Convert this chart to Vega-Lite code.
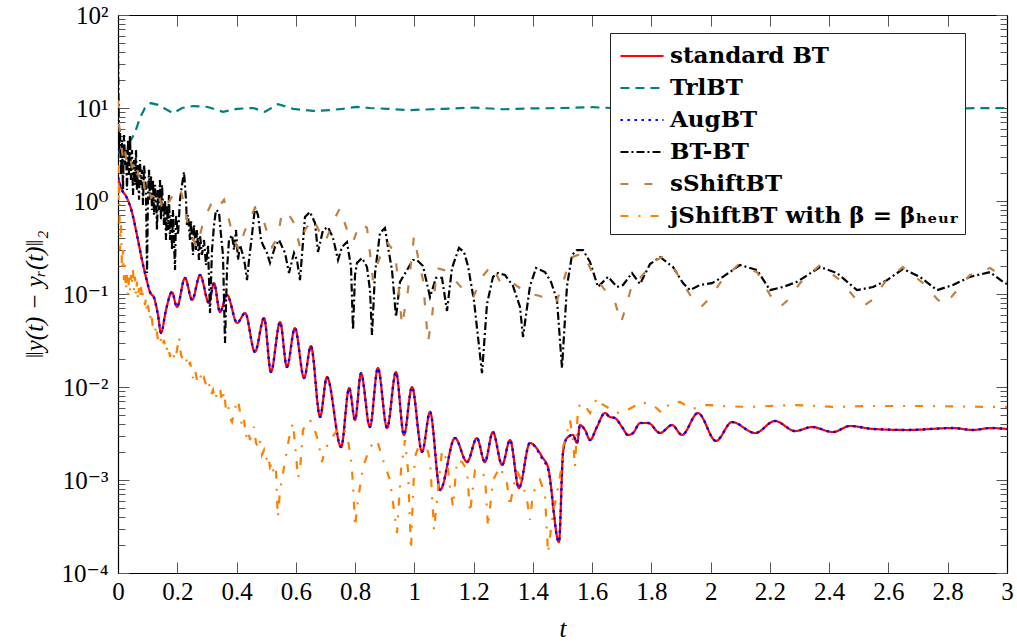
{
"$schema": "https://vega.github.io/schema/vega-lite/v6.json",
"width": 889, "height": 558,
"autosize": {"type": "none"},
"padding": {"left": 118, "top": 15, "right": 10, "bottom": 71},
"background": "white",
"config": {
 "view": {"stroke": null},
 "font": "Liberation Serif, DejaVu Serif, serif",
 "axis": {"domainColor": "black", "domainWidth": 1.2, "tickColor": "#555", "tickWidth": 1, "labelFont": "Liberation Serif, DejaVu Serif, serif", "labelFontSize": 25, "labelColor": "black", "titleFont": "Liberation Serif, DejaVu Serif, serif", "titleFontSize": 25, "titleFontWeight": "normal", "titleColor": "black", "grid": false, "labelOverlap": false, "labelFlush": false},
 "legend": {"labelFont": "DejaVu Serif, Liberation Serif, serif", "labelFontSize": 23, "labelFontWeight": "bold", "labelColor": "black", "labelLimit": 500}
},
"data": {"values": [
{"s":"BT","t":0,"v":1.81},{"s":"BT","t":0.0135,"v":1.31},{"s":"BT","t":0.027,"v":1.13},{"s":"BT","t":0.047,"v":0.761},{"s":"BT","t":0.064,"v":0.431},{"s":"BT","t":0.081,"v":0.232},{"s":"BT","t":0.095,"v":0.149},{"s":"BT","t":0.108,"v":0.105},{"s":"BT","t":0.122,"v":0.0906},{"s":"BT","t":0.135,"v":0.0594},{"s":"BT","t":0.145,"v":0.0381},{"s":"BT","t":0.162,"v":0.0673},{"s":"BT","t":0.182,"v":0.105},{"s":"BT","t":0.199,"v":0.0725},{"s":"BT","t":0.226,"v":0.149},{"s":"BT","t":0.25,"v":0.0862},{"s":"BT","t":0.277,"v":0.16},{"s":"BT","t":0.307,"v":0.08},{"s":"BT","t":0.324,"v":0.131},{"s":"BT","t":0.344,"v":0.064},{"s":"BT","t":0.368,"v":0.0976},{"s":"BT","t":0.402,"v":0.0488},{"s":"BT","t":0.429,"v":0.0625},{"s":"BT","t":0.462,"v":0.0238},{"s":"BT","t":0.493,"v":0.0552},{"s":"BT","t":0.516,"v":0.0145},{"s":"BT","t":0.547,"v":0.05},{"s":"BT","t":0.57,"v":0.0164},{"s":"BT","t":0.597,"v":0.0431},{"s":"BT","t":0.628,"v":0.0125},{"s":"BT","t":0.651,"v":0.0276},{"s":"BT","t":0.682,"v":0.00476},{"s":"BT","t":0.705,"v":0.0128},{"s":"BT","t":0.753,"v":0.00226},{"s":"BT","t":0.78,"v":0.00976},{"s":"BT","t":0.8,"v":0.00442},{"s":"BT","t":0.82,"v":0.0141},{"s":"BT","t":0.85,"v":0.00371},{"s":"BT","t":0.877,"v":0.016},{"s":"BT","t":0.908,"v":0.00362},{"s":"BT","t":0.938,"v":0.0145},{"s":"BT","t":0.965,"v":0.00305},{"s":"BT","t":0.992,"v":0.01},{"s":"BT","t":1.026,"v":0.002},{"s":"BT","t":1.053,"v":0.00539},{"s":"BT","t":1.087,"v":0.000781},{"s":"BT","t":1.137,"v":0.00283},{"s":"BT","t":1.178,"v":0.00156},{"s":"BT","t":1.211,"v":0.00283},{"s":"BT","t":1.238,"v":0.00156},{"s":"BT","t":1.265,"v":0.00328},{"s":"BT","t":1.296,"v":0.00145},{"s":"BT","t":1.323,"v":0.00269},{"s":"BT","t":1.353,"v":0.00082},{"s":"BT","t":1.39,"v":0.0025},{"s":"BT","t":1.434,"v":0.00172},{"s":"BT","t":1.451,"v":0.00138},{"s":"BT","t":1.488,"v":0.000215},{"s":"BT","t":1.502,"v":0.002},{"s":"BT","t":1.515,"v":0.00283},{"s":"BT","t":1.535,"v":0.00305},{"s":"BT","t":1.549,"v":0.0025},{"s":"BT","t":1.559,"v":0.0039},{"s":"BT","t":1.576,"v":0.00345},{"s":"BT","t":1.593,"v":0.00269},{"s":"BT","t":1.616,"v":0.00371},{"s":"BT","t":1.643,"v":0.00525},{"s":"BT","t":1.66,"v":0.00476},{"s":"BT","t":1.677,"v":0.00464},{"s":"BT","t":1.701,"v":0.00371},{"s":"BT","t":1.721,"v":0.00305},{"s":"BT","t":1.738,"v":0.0032},{"s":"BT","t":1.762,"v":0.0041},{"s":"BT","t":1.789,"v":0.0041},{"s":"BT","t":1.829,"v":0.0032},{"s":"BT","t":1.87,"v":0.0039},{"s":"BT","t":1.903,"v":0.00305},{"s":"BT","t":1.957,"v":0.00525},{"s":"BT","t":2.018,"v":0.00263},{"s":"BT","t":2.072,"v":0.0042},{"s":"BT","t":2.15,"v":0.0032},{"s":"BT","t":2.217,"v":0.00431},{"s":"BT","t":2.285,"v":0.00336},{"s":"BT","t":2.342,"v":0.00371},{"s":"BT","t":2.413,"v":0.00328},{"s":"BT","t":2.47,"v":0.00381},{"s":"BT","t":2.548,"v":0.00354},{"s":"BT","t":2.663,"v":0.00345},{"s":"BT","t":2.818,"v":0.00362},{"s":"BT","t":2.885,"v":0.00345},{"s":"BT","t":2.943,"v":0.00362},{"s":"BT","t":3,"v":0.00354},
{"s":"AugBT","t":0,"v":1.81},{"s":"AugBT","t":0.0135,"v":1.31},{"s":"AugBT","t":0.027,"v":1.13},{"s":"AugBT","t":0.047,"v":0.761},{"s":"AugBT","t":0.064,"v":0.431},{"s":"AugBT","t":0.081,"v":0.232},{"s":"AugBT","t":0.095,"v":0.149},{"s":"AugBT","t":0.108,"v":0.105},{"s":"AugBT","t":0.122,"v":0.0906},{"s":"AugBT","t":0.135,"v":0.0594},{"s":"AugBT","t":0.145,"v":0.0381},{"s":"AugBT","t":0.162,"v":0.0673},{"s":"AugBT","t":0.182,"v":0.105},{"s":"AugBT","t":0.199,"v":0.0725},{"s":"AugBT","t":0.226,"v":0.149},{"s":"AugBT","t":0.25,"v":0.0862},{"s":"AugBT","t":0.277,"v":0.16},{"s":"AugBT","t":0.307,"v":0.08},{"s":"AugBT","t":0.324,"v":0.131},{"s":"AugBT","t":0.344,"v":0.064},{"s":"AugBT","t":0.368,"v":0.0976},{"s":"AugBT","t":0.402,"v":0.0488},{"s":"AugBT","t":0.429,"v":0.0625},{"s":"AugBT","t":0.462,"v":0.0238},{"s":"AugBT","t":0.493,"v":0.0552},{"s":"AugBT","t":0.516,"v":0.0145},{"s":"AugBT","t":0.547,"v":0.05},{"s":"AugBT","t":0.57,"v":0.0164},{"s":"AugBT","t":0.597,"v":0.0431},{"s":"AugBT","t":0.628,"v":0.0125},{"s":"AugBT","t":0.651,"v":0.0276},{"s":"AugBT","t":0.682,"v":0.00476},{"s":"AugBT","t":0.705,"v":0.0128},{"s":"AugBT","t":0.753,"v":0.00226},{"s":"AugBT","t":0.78,"v":0.00976},{"s":"AugBT","t":0.8,"v":0.00442},{"s":"AugBT","t":0.82,"v":0.0141},{"s":"AugBT","t":0.85,"v":0.00371},{"s":"AugBT","t":0.877,"v":0.016},{"s":"AugBT","t":0.908,"v":0.00362},{"s":"AugBT","t":0.938,"v":0.0145},{"s":"AugBT","t":0.965,"v":0.00305},{"s":"AugBT","t":0.992,"v":0.01},{"s":"AugBT","t":1.026,"v":0.002},{"s":"AugBT","t":1.053,"v":0.00539},{"s":"AugBT","t":1.087,"v":0.000781},{"s":"AugBT","t":1.137,"v":0.00283},{"s":"AugBT","t":1.178,"v":0.00156},{"s":"AugBT","t":1.211,"v":0.00283},{"s":"AugBT","t":1.238,"v":0.00156},{"s":"AugBT","t":1.265,"v":0.00328},{"s":"AugBT","t":1.296,"v":0.00145},{"s":"AugBT","t":1.323,"v":0.00269},{"s":"AugBT","t":1.353,"v":0.00082},{"s":"AugBT","t":1.39,"v":0.0025},{"s":"AugBT","t":1.434,"v":0.00165},{"s":"AugBT","t":1.451,"v":0.00132},{"s":"AugBT","t":1.488,"v":0.000215},{"s":"AugBT","t":1.502,"v":0.002},{"s":"AugBT","t":1.515,"v":0.00283},{"s":"AugBT","t":1.535,"v":0.00305},{"s":"AugBT","t":1.549,"v":0.0025},{"s":"AugBT","t":1.559,"v":0.0039},{"s":"AugBT","t":1.576,"v":0.00345},{"s":"AugBT","t":1.593,"v":0.00269},{"s":"AugBT","t":1.616,"v":0.00371},{"s":"AugBT","t":1.643,"v":0.00525},{"s":"AugBT","t":1.66,"v":0.00476},{"s":"AugBT","t":1.677,"v":0.00464},{"s":"AugBT","t":1.701,"v":0.00371},{"s":"AugBT","t":1.721,"v":0.00305},{"s":"AugBT","t":1.738,"v":0.0032},{"s":"AugBT","t":1.762,"v":0.0041},{"s":"AugBT","t":1.789,"v":0.0041},{"s":"AugBT","t":1.829,"v":0.0032},{"s":"AugBT","t":1.87,"v":0.0039},{"s":"AugBT","t":1.903,"v":0.00305},{"s":"AugBT","t":1.957,"v":0.00525},{"s":"AugBT","t":2.018,"v":0.00263},{"s":"AugBT","t":2.072,"v":0.0042},{"s":"AugBT","t":2.15,"v":0.0032},{"s":"AugBT","t":2.217,"v":0.00431},{"s":"AugBT","t":2.285,"v":0.00336},{"s":"AugBT","t":2.342,"v":0.00371},{"s":"AugBT","t":2.413,"v":0.00328},{"s":"AugBT","t":2.47,"v":0.00381},{"s":"AugBT","t":2.548,"v":0.00354},{"s":"AugBT","t":2.663,"v":0.00345},{"s":"AugBT","t":2.818,"v":0.00362},{"s":"AugBT","t":2.885,"v":0.00345},{"s":"AugBT","t":2.943,"v":0.00362},{"s":"AugBT","t":3,"v":0.00354},
{"s":"TrlBT","t":0,"v":3.3},{"s":"TrlBT","t":0.03,"v":3.8},{"s":"TrlBT","t":0.057,"v":5.4},{"s":"TrlBT","t":0.074,"v":7.8},{"s":"TrlBT","t":0.091,"v":10},{"s":"TrlBT","t":0.111,"v":11.3},{"s":"TrlBT","t":0.135,"v":10.8},{"s":"TrlBT","t":0.159,"v":9.8},{"s":"TrlBT","t":0.186,"v":8.8},{"s":"TrlBT","t":0.216,"v":10},{"s":"TrlBT","t":0.253,"v":10.5},{"s":"TrlBT","t":0.3,"v":10.3},{"s":"TrlBT","t":0.354,"v":9.1},{"s":"TrlBT","t":0.402,"v":9.8},{"s":"TrlBT","t":0.456,"v":10},{"s":"TrlBT","t":0.496,"v":9.1},{"s":"TrlBT","t":0.54,"v":11},{"s":"TrlBT","t":0.591,"v":9.8},{"s":"TrlBT","t":0.658,"v":9.3},{"s":"TrlBT","t":0.715,"v":9.5},{"s":"TrlBT","t":0.759,"v":9.8},{"s":"TrlBT","t":0.807,"v":10.3},{"s":"TrlBT","t":0.85,"v":10},{"s":"TrlBT","t":0.908,"v":9.8},{"s":"TrlBT","t":0.985,"v":9.5},{"s":"TrlBT","t":1.1,"v":9.8},{"s":"TrlBT","t":1.2,"v":10.1},{"s":"TrlBT","t":1.3,"v":9.7},{"s":"TrlBT","t":1.4,"v":9.9},{"s":"TrlBT","t":1.5,"v":10},{"s":"TrlBT","t":1.6,"v":10.2},{"s":"TrlBT","t":1.7,"v":9.9},{"s":"TrlBT","t":1.8,"v":10},{"s":"TrlBT","t":1.9,"v":10.1},{"s":"TrlBT","t":2,"v":10},{"s":"TrlBT","t":2.2,"v":9.9},{"s":"TrlBT","t":2.4,"v":10},{"s":"TrlBT","t":2.6,"v":10},{"s":"TrlBT","t":2.8,"v":9.9},{"s":"TrlBT","t":3,"v":10},
{"s":"BTBT","t":0,"v":47.6},{"s":"BTBT","t":0.0017,"v":12.2},{"s":"BTBT","t":0.0034,"v":3.54},{"s":"BTBT","t":0.0067,"v":5.8},{"s":"BTBT","t":0.0101,"v":1.9},{"s":"BTBT","t":0.0135,"v":4.53},{"s":"BTBT","t":0.0169,"v":1.31},{"s":"BTBT","t":0.0202,"v":5.13},{"s":"BTBT","t":0.0236,"v":2.44},{"s":"BTBT","t":0.027,"v":3.54},{"s":"BTBT","t":0.0304,"v":1.31},{"s":"BTBT","t":0.0337,"v":4.53},{"s":"BTBT","t":0.0371,"v":1.9},{"s":"BTBT","t":0.0405,"v":5.13},{"s":"BTBT","t":0.0439,"v":1.68},{"s":"BTBT","t":0.0472,"v":3.54},{"s":"BTBT","t":0.0506,"v":1.16},{"s":"BTBT","t":0.054,"v":2.76},{"s":"BTBT","t":0.0574,"v":1.49},{"s":"BTBT","t":0.0607,"v":3.54},{"s":"BTBT","t":0.0641,"v":1.31},{"s":"BTBT","t":0.0675,"v":2.44},{"s":"BTBT","t":0.0709,"v":1.03},{"s":"BTBT","t":0.0742,"v":2.76},{"s":"BTBT","t":0.0776,"v":1.49},{"s":"BTBT","t":0.081,"v":2.16},{"s":"BTBT","t":0.0844,"v":0.906},{"s":"BTBT","t":0.0877,"v":2.44},{"s":"BTBT","t":0.0945,"v":1.31},{"s":"BTBT","t":0.0979,"v":0.168},{"s":"BTBT","t":0.1012,"v":1.16},{"s":"BTBT","t":0.1046,"v":2.16},{"s":"BTBT","t":0.108,"v":1.03},{"s":"BTBT","t":0.1114,"v":1.9},{"s":"BTBT","t":0.1147,"v":0.8},{"s":"BTBT","t":0.1181,"v":1.68},{"s":"BTBT","t":0.1215,"v":0.707},{"s":"BTBT","t":0.1249,"v":1.49},{"s":"BTBT","t":0.1282,"v":1.16},{"s":"BTBT","t":0.1316,"v":0.488},{"s":"BTBT","t":0.135,"v":1.31},{"s":"BTBT","t":0.1384,"v":0.8},{"s":"BTBT","t":0.1417,"v":1.68},{"s":"BTBT","t":0.1451,"v":0.625},{"s":"BTBT","t":0.1485,"v":1.49},{"s":"BTBT","t":0.1552,"v":0.552},{"s":"BTBT","t":0.1586,"v":1.03},{"s":"BTBT","t":0.162,"v":0.381},{"s":"BTBT","t":0.1654,"v":0.906},{"s":"BTBT","t":0.1687,"v":0.488},{"s":"BTBT","t":0.1721,"v":1.16},{"s":"BTBT","t":0.1755,"v":0.381},{"s":"BTBT","t":0.1789,"v":0.707},{"s":"BTBT","t":0.1822,"v":0.297},{"s":"BTBT","t":0.1856,"v":0.8},{"s":"BTBT","t":0.1924,"v":0.181},{"s":"BTBT","t":0.1957,"v":0.707},{"s":"BTBT","t":0.2025,"v":0.431},{"s":"BTBT","t":0.2092,"v":1.03},{"s":"BTBT","t":0.216,"v":1.49},{"s":"BTBT","t":0.2227,"v":2.05},{"s":"BTBT","t":0.2295,"v":1.03},{"s":"BTBT","t":0.2328,"v":0.552},{"s":"BTBT","t":0.2362,"v":0.707},{"s":"BTBT","t":0.243,"v":0.381},{"s":"BTBT","t":0.2463,"v":0.625},{"s":"BTBT","t":0.2531,"v":0.263},{"s":"BTBT","t":0.2565,"v":0.552},{"s":"BTBT","t":0.2632,"v":0.297},{"s":"BTBT","t":0.2666,"v":0.488},{"s":"BTBT","t":0.2733,"v":0.232},{"s":"BTBT","t":0.2767,"v":0.431},{"s":"BTBT","t":0.2835,"v":0.263},{"s":"BTBT","t":0.2902,"v":0.381},{"s":"BTBT","t":0.297,"v":0.205},{"s":"BTBT","t":0.3037,"v":0.336},{"s":"BTBT","t":0.3105,"v":0.0625},{"s":"BTBT","t":0.3172,"v":0.297},{"s":"BTBT","t":0.324,"v":0.552},{"s":"BTBT","t":0.3307,"v":0.8},{"s":"BTBT","t":0.3408,"v":0.762},{"s":"BTBT","t":0.3476,"v":0.431},{"s":"BTBT","t":0.3543,"v":0.263},{"s":"BTBT","t":0.3611,"v":0.0297},{"s":"BTBT","t":0.3678,"v":0.181},{"s":"BTBT","t":0.3746,"v":0.381},{"s":"BTBT","t":0.3847,"v":0.431},{"s":"BTBT","t":0.3915,"v":0.297},{"s":"BTBT","t":0.3982,"v":0.488},{"s":"BTBT","t":0.405,"v":0.232},{"s":"BTBT","t":0.4117,"v":0.336},{"s":"BTBT","t":0.4218,"v":0.263},{"s":"BTBT","t":0.4286,"v":0.205},{"s":"BTBT","t":0.4353,"v":0.141},{"s":"BTBT","t":0.4421,"v":0.232},{"s":"BTBT","t":0.4522,"v":0.431},{"s":"BTBT","t":0.4623,"v":0.862},{"s":"BTBT","t":0.4724,"v":0.707},{"s":"BTBT","t":0.4826,"v":0.381},{"s":"BTBT","t":0.4893,"v":0.336},{"s":"BTBT","t":0.5028,"v":0.276},{"s":"BTBT","t":0.5129,"v":0.216},{"s":"BTBT","t":0.5298,"v":0.32},{"s":"BTBT","t":0.5433,"v":0.381},{"s":"BTBT","t":0.5636,"v":0.276},{"s":"BTBT","t":0.577,"v":0.168},{"s":"BTBT","t":0.5939,"v":0.276},{"s":"BTBT","t":0.604,"v":0.232},{"s":"BTBT","t":0.6141,"v":0.141},{"s":"BTBT","t":0.631,"v":0.673},{"s":"BTBT","t":0.6479,"v":0.762},{"s":"BTBT","t":0.6648,"v":0.58},{"s":"BTBT","t":0.6749,"v":0.283},{"s":"BTBT","t":0.6918,"v":0.488},{"s":"BTBT","t":0.7087,"v":0.525},{"s":"BTBT","t":0.7256,"v":0.4},{"s":"BTBT","t":0.7425,"v":0.232},{"s":"BTBT","t":0.7559,"v":0.32},{"s":"BTBT","t":0.7728,"v":0.362},{"s":"BTBT","t":0.7863,"v":0.195},{"s":"BTBT","t":0.7931,"v":0.041},{"s":"BTBT","t":0.7998,"v":0.16},{"s":"BTBT","t":0.8065,"v":0.216},{"s":"BTBT","t":0.8234,"v":0.244},{"s":"BTBT","t":0.8403,"v":0.195},{"s":"BTBT","t":0.8504,"v":0.11},{"s":"BTBT","t":0.8571,"v":0.0362},{"s":"BTBT","t":0.8673,"v":0.168},{"s":"BTBT","t":0.8841,"v":0.453},{"s":"BTBT","t":0.901,"v":0.513},{"s":"BTBT","t":0.9111,"v":0.32},{"s":"BTBT","t":0.9246,"v":0.181},{"s":"BTBT","t":0.9381,"v":0.0566},{"s":"BTBT","t":0.9516,"v":0.135},{"s":"BTBT","t":0.9753,"v":0.181},{"s":"BTBT","t":0.9955,"v":0.232},{"s":"BTBT","t":1.009,"v":0.232},{"s":"BTBT","t":1.0292,"v":0.2},{"s":"BTBT","t":1.0529,"v":0.0928},{"s":"BTBT","t":1.0731,"v":0.149},{"s":"BTBT","t":1.0934,"v":0.149},{"s":"BTBT","t":1.1102,"v":0.0657},{"s":"BTBT","t":1.1271,"v":0.19},{"s":"BTBT","t":1.1507,"v":0.313},{"s":"BTBT","t":1.1676,"v":0.283},{"s":"BTBT","t":1.1811,"v":0.2},{"s":"BTBT","t":1.2014,"v":0.0841},{"s":"BTBT","t":1.2284,"v":0.0141},{"s":"BTBT","t":1.2452,"v":0.0781},{"s":"BTBT","t":1.2655,"v":0.153},{"s":"BTBT","t":1.2823,"v":0.168},{"s":"BTBT","t":1.306,"v":0.16},{"s":"BTBT","t":1.333,"v":0.122},{"s":"BTBT","t":1.3566,"v":0.0725},{"s":"BTBT","t":1.3667,"v":0.0345},{"s":"BTBT","t":1.3903,"v":0.122},{"s":"BTBT","t":1.4106,"v":0.19},{"s":"BTBT","t":1.441,"v":0.172},{"s":"BTBT","t":1.4612,"v":0.135},{"s":"BTBT","t":1.4815,"v":0.0862},{"s":"BTBT","t":1.4983,"v":0.016},{"s":"BTBT","t":1.5152,"v":0.122},{"s":"BTBT","t":1.5321,"v":0.263},{"s":"BTBT","t":1.5489,"v":0.297},{"s":"BTBT","t":1.5692,"v":0.297},{"s":"BTBT","t":1.5928,"v":0.221},{"s":"BTBT","t":1.6198,"v":0.119},{"s":"BTBT","t":1.6536,"v":0.153},{"s":"BTBT","t":1.6839,"v":0.119},{"s":"BTBT","t":1.7042,"v":0.125},{"s":"BTBT","t":1.7346,"v":0.168},{"s":"BTBT","t":1.7616,"v":0.128},{"s":"BTBT","t":1.7953,"v":0.21},{"s":"BTBT","t":1.829,"v":0.25},{"s":"BTBT","t":1.8729,"v":0.195},{"s":"BTBT","t":1.9067,"v":0.131},{"s":"BTBT","t":1.9303,"v":0.11},{"s":"BTBT","t":1.964,"v":0.125},{"s":"BTBT","t":2.0045,"v":0.131},{"s":"BTBT","t":2.0416,"v":0.153},{"s":"BTBT","t":2.099,"v":0.205},{"s":"BTBT","t":2.1564,"v":0.181},{"s":"BTBT","t":2.2002,"v":0.11},{"s":"BTBT","t":2.2441,"v":0.119},{"s":"BTBT","t":2.2913,"v":0.135},{"s":"BTBT","t":2.369,"v":0.195},{"s":"BTBT","t":2.4263,"v":0.168},{"s":"BTBT","t":2.4938,"v":0.11},{"s":"BTBT","t":2.5478,"v":0.119},{"s":"BTBT","t":2.5951,"v":0.141},{"s":"BTBT","t":2.649,"v":0.186},{"s":"BTBT","t":2.7064,"v":0.153},{"s":"BTBT","t":2.7638,"v":0.11},{"s":"BTBT","t":2.8178,"v":0.125},{"s":"BTBT","t":2.8752,"v":0.153},{"s":"BTBT","t":2.9427,"v":0.172},{"s":"BTBT","t":2.9865,"v":0.135},{"s":"BTBT","t":3,"v":0.128},
{"s":"sShift","t":0,"v":12.2},{"s":"sShift","t":0.0034,"v":6.57},{"s":"sShift","t":0.0101,"v":4.53},{"s":"sShift","t":0.0169,"v":2.76},{"s":"sShift","t":0.0236,"v":3.54},{"s":"sShift","t":0.0304,"v":2.44},{"s":"sShift","t":0.0405,"v":2.9},{"s":"sShift","t":0.0506,"v":2.16},{"s":"sShift","t":0.0607,"v":2.56},{"s":"sShift","t":0.0709,"v":1.77},{"s":"sShift","t":0.081,"v":2.05},{"s":"sShift","t":0.0911,"v":1.31},{"s":"sShift","t":0.1012,"v":1.49},{"s":"sShift","t":0.1114,"v":1.08},{"s":"sShift","t":0.1215,"v":1.16},{"s":"sShift","t":0.1316,"v":0.906},{"s":"sShift","t":0.1417,"v":1.03},{"s":"sShift","t":0.1519,"v":0.762},{"s":"sShift","t":0.162,"v":0.906},{"s":"sShift","t":0.1755,"v":1.03},{"s":"sShift","t":0.1924,"v":1.25},{"s":"sShift","t":0.2058,"v":1.41},{"s":"sShift","t":0.216,"v":1.16},{"s":"sShift","t":0.2261,"v":0.8},{"s":"sShift","t":0.2362,"v":0.552},{"s":"sShift","t":0.2497,"v":0.41},{"s":"sShift","t":0.2666,"v":0.32},{"s":"sShift","t":0.2835,"v":0.525},{"s":"sShift","t":0.3003,"v":0.743},{"s":"sShift","t":0.3172,"v":0.976},{"s":"sShift","t":0.3307,"v":0.841},{"s":"sShift","t":0.3442,"v":0.906},{"s":"sShift","t":0.3577,"v":1.03},{"s":"sShift","t":0.3746,"v":0.625},{"s":"sShift","t":0.3915,"v":0.381},{"s":"sShift","t":0.4083,"v":0.297},{"s":"sShift","t":0.4252,"v":0.453},{"s":"sShift","t":0.4421,"v":0.625},{"s":"sShift","t":0.4623,"v":0.841},{"s":"sShift","t":0.4792,"v":0.707},{"s":"sShift","t":0.4927,"v":0.594},{"s":"sShift","t":0.5062,"v":0.431},{"s":"sShift","t":0.5197,"v":0.32},{"s":"sShift","t":0.5332,"v":0.381},{"s":"sShift","t":0.5433,"v":0.488},{"s":"sShift","t":0.5534,"v":0.762},{"s":"sShift","t":0.5703,"v":0.762},{"s":"sShift","t":0.5838,"v":0.657},{"s":"sShift","t":0.5939,"v":0.58},{"s":"sShift","t":0.604,"v":0.431},{"s":"sShift","t":0.6141,"v":0.32},{"s":"sShift","t":0.631,"v":0.488},{"s":"sShift","t":0.658,"v":0.657},{"s":"sShift","t":0.6817,"v":0.453},{"s":"sShift","t":0.6985,"v":0.362},{"s":"sShift","t":0.7154,"v":0.488},{"s":"sShift","t":0.7256,"v":0.594},{"s":"sShift","t":0.7491,"v":0.841},{"s":"sShift","t":0.7728,"v":0.488},{"s":"sShift","t":0.7931,"v":0.362},{"s":"sShift","t":0.8166,"v":0.58},{"s":"sShift","t":0.8403,"v":0.513},{"s":"sShift","t":0.8504,"v":0.276},{"s":"sShift","t":0.8605,"v":0.141},{"s":"sShift","t":0.874,"v":0.205},{"s":"sShift","t":0.8841,"v":0.25},{"s":"sShift","t":0.9078,"v":0.362},{"s":"sShift","t":0.9348,"v":0.276},{"s":"sShift","t":0.9449,"v":0.141},{"s":"sShift","t":0.9584,"v":0.0453},{"s":"sShift","t":0.9786,"v":0.11},{"s":"sShift","t":0.9989,"v":0.421},{"s":"sShift","t":1.0124,"v":0.25},{"s":"sShift","t":1.0292,"v":0.141},{"s":"sShift","t":1.0461,"v":0.0304},{"s":"sShift","t":1.0596,"v":0.0566},{"s":"sShift","t":1.0765,"v":0.19},{"s":"sShift","t":1.1102,"v":0.177},{"s":"sShift","t":1.1541,"v":0.122},{"s":"sShift","t":1.198,"v":0.0906},{"s":"sShift","t":1.2284,"v":0.153},{"s":"sShift","t":1.2621,"v":0.205},{"s":"sShift","t":1.2925,"v":0.128},{"s":"sShift","t":1.333,"v":0.131},{"s":"sShift","t":1.3768,"v":0.103},{"s":"sShift","t":1.4241,"v":0.0952},{"s":"sShift","t":1.478,"v":0.08},{"s":"sShift","t":1.5017,"v":0.131},{"s":"sShift","t":1.5253,"v":0.244},{"s":"sShift","t":1.5692,"v":0.276},{"s":"sShift","t":1.6063,"v":0.156},{"s":"sShift","t":1.6434,"v":0.11},{"s":"sShift","t":1.6772,"v":0.082},{"s":"sShift","t":1.6974,"v":0.0488},{"s":"sShift","t":1.7177,"v":0.08},{"s":"sShift","t":1.7379,"v":0.138},{"s":"sShift","t":1.7616,"v":0.149},{"s":"sShift","t":1.7852,"v":0.181},{"s":"sShift","t":1.8054,"v":0.221},{"s":"sShift","t":1.8358,"v":0.25},{"s":"sShift","t":1.8729,"v":0.195},{"s":"sShift","t":1.9067,"v":0.131},{"s":"sShift","t":1.9404,"v":0.0862},{"s":"sShift","t":1.9674,"v":0.0725},{"s":"sShift","t":1.9978,"v":0.0906},{"s":"sShift","t":2.0382,"v":0.141},{"s":"sShift","t":2.0922,"v":0.205},{"s":"sShift","t":2.1564,"v":0.172},{"s":"sShift","t":2.2002,"v":0.0976},{"s":"sShift","t":2.234,"v":0.0725},{"s":"sShift","t":2.261,"v":0.0862},{"s":"sShift","t":2.3015,"v":0.131},{"s":"sShift","t":2.369,"v":0.205},{"s":"sShift","t":2.4365,"v":0.141},{"s":"sShift","t":2.487,"v":0.0906},{"s":"sShift","t":2.5107,"v":0.0725},{"s":"sShift","t":2.5445,"v":0.0862},{"s":"sShift","t":2.5884,"v":0.135},{"s":"sShift","t":2.649,"v":0.195},{"s":"sShift","t":2.7166,"v":0.131},{"s":"sShift","t":2.7672,"v":0.0862},{"s":"sShift","t":2.7908,"v":0.0762},{"s":"sShift","t":2.8178,"v":0.0976},{"s":"sShift","t":2.8752,"v":0.16},{"s":"sShift","t":2.9427,"v":0.19},{"s":"sShift","t":2.9865,"v":0.153},{"s":"sShift","t":3,"v":0.135},
{"s":"jShift","t":0,"v":2.44},{"s":"jShift","t":0.0017,"v":1.03},{"s":"jShift","t":0.0034,"v":1.68},{"s":"jShift","t":0.0051,"v":0.707},{"s":"jShift","t":0.0067,"v":0.297},{"s":"jShift","t":0.0101,"v":0.552},{"s":"jShift","t":0.0135,"v":0.181},{"s":"jShift","t":0.0169,"v":0.297},{"s":"jShift","t":0.0202,"v":0.141},{"s":"jShift","t":0.0236,"v":0.205},{"s":"jShift","t":0.027,"v":0.11},{"s":"jShift","t":0.0304,"v":0.16},{"s":"jShift","t":0.0337,"v":0.0976},{"s":"jShift","t":0.0371,"v":0.149},{"s":"jShift","t":0.0405,"v":0.11},{"s":"jShift","t":0.0439,"v":0.16},{"s":"jShift","t":0.0472,"v":0.125},{"s":"jShift","t":0.0506,"v":0.181},{"s":"jShift","t":0.054,"v":0.11},{"s":"jShift","t":0.0574,"v":0.153},{"s":"jShift","t":0.0607,"v":0.0976},{"s":"jShift","t":0.0641,"v":0.135},{"s":"jShift","t":0.0675,"v":0.0862},{"s":"jShift","t":0.0709,"v":0.116},{"s":"jShift","t":0.0742,"v":0.0906},{"s":"jShift","t":0.0776,"v":0.125},{"s":"jShift","t":0.081,"v":0.0862},{"s":"jShift","t":0.0844,"v":0.103},{"s":"jShift","t":0.0911,"v":0.0762},{"s":"jShift","t":0.0945,"v":0.0906},{"s":"jShift","t":0.0979,"v":0.0641},{"s":"jShift","t":0.1012,"v":0.0762},{"s":"jShift","t":0.108,"v":0.0525},{"s":"jShift","t":0.1114,"v":0.0641},{"s":"jShift","t":0.1181,"v":0.0431},{"s":"jShift","t":0.1249,"v":0.0381},{"s":"jShift","t":0.1282,"v":0.0464},{"s":"jShift","t":0.135,"v":0.032},{"s":"jShift","t":0.1417,"v":0.0362},{"s":"jShift","t":0.1485,"v":0.0269},{"s":"jShift","t":0.1552,"v":0.032},{"s":"jShift","t":0.162,"v":0.0238},{"s":"jShift","t":0.1687,"v":0.0283},{"s":"jShift","t":0.1755,"v":0.021},{"s":"jShift","t":0.1822,"v":0.025},{"s":"jShift","t":0.1924,"v":0.0195},{"s":"jShift","t":0.1991,"v":0.025},{"s":"jShift","t":0.2058,"v":0.0345},{"s":"jShift","t":0.2126,"v":0.0221},{"s":"jShift","t":0.2227,"v":0.0186},{"s":"jShift","t":0.2295,"v":0.0205},{"s":"jShift","t":0.2362,"v":0.016},{"s":"jShift","t":0.243,"v":0.0186},{"s":"jShift","t":0.2531,"v":0.0125},{"s":"jShift","t":0.2598,"v":0.0153},{"s":"jShift","t":0.2666,"v":0.0119},{"s":"jShift","t":0.2767,"v":0.0141},{"s":"jShift","t":0.2835,"v":0.011},{"s":"jShift","t":0.2902,"v":0.0125},{"s":"jShift","t":0.3003,"v":0.00976},{"s":"jShift","t":0.3071,"v":0.011},{"s":"jShift","t":0.3138,"v":0.0082},{"s":"jShift","t":0.3206,"v":0.00928},{"s":"jShift","t":0.3273,"v":0.00725},{"s":"jShift","t":0.3375,"v":0.00928},{"s":"jShift","t":0.3442,"v":0.00976},{"s":"jShift","t":0.351,"v":0.0069},{"s":"jShift","t":0.3577,"v":0.00884},{"s":"jShift","t":0.3645,"v":0.00566},{"s":"jShift","t":0.3712,"v":0.00641},{"s":"jShift","t":0.378,"v":0.00464},{"s":"jShift","t":0.3847,"v":0.00421},{"s":"jShift","t":0.3915,"v":0.00539},{"s":"jShift","t":0.3982,"v":0.00641},{"s":"jShift","t":0.405,"v":0.00725},{"s":"jShift","t":0.4117,"v":0.00539},{"s":"jShift","t":0.4184,"v":0.00372},{"s":"jShift","t":0.4252,"v":0.00442},{"s":"jShift","t":0.432,"v":0.0029},{"s":"jShift","t":0.4387,"v":0.00345},{"s":"jShift","t":0.4455,"v":0.00269},{"s":"jShift","t":0.4522,"v":0.00328},{"s":"jShift","t":0.4589,"v":0.00372},{"s":"jShift","t":0.4657,"v":0.0025},{"s":"jShift","t":0.4724,"v":0.00226},{"s":"jShift","t":0.4792,"v":0.00269},{"s":"jShift","t":0.4859,"v":0.00186},{"s":"jShift","t":0.4927,"v":0.0021},{"s":"jShift","t":0.4994,"v":0.00164},{"s":"jShift","t":0.5062,"v":0.00186},{"s":"jShift","t":0.5129,"v":0.00138},{"s":"jShift","t":0.5197,"v":0.00156},{"s":"jShift","t":0.5264,"v":0.00113},{"s":"jShift","t":0.5332,"v":0.00128},{"s":"jShift","t":0.5366,"v":0.00061},{"s":"jShift","t":0.5399,"v":0.0004},{"s":"jShift","t":0.5467,"v":0.00078},{"s":"jShift","t":0.5568,"v":0.00119},{"s":"jShift","t":0.5703,"v":0.0021},{"s":"jShift","t":0.5804,"v":0.0032},{"s":"jShift","t":0.5905,"v":0.0041},{"s":"jShift","t":0.6007,"v":0.00186},{"s":"jShift","t":0.6074,"v":0.00105},{"s":"jShift","t":0.6141,"v":0.00128},{"s":"jShift","t":0.6243,"v":0.00345},{"s":"jShift","t":0.6378,"v":0.00421},{"s":"jShift","t":0.6479,"v":0.00442},{"s":"jShift","t":0.6614,"v":0.00362},{"s":"jShift","t":0.6749,"v":0.00269},{"s":"jShift","t":0.6884,"v":0.00156},{"s":"jShift","t":0.6985,"v":0.0021},{"s":"jShift","t":0.7154,"v":0.00269},{"s":"jShift","t":0.7357,"v":0.00328},{"s":"jShift","t":0.7593,"v":0.00372},{"s":"jShift","t":0.7761,"v":0.00269},{"s":"jShift","t":0.7863,"v":0.00164},{"s":"jShift","t":0.7931,"v":0.000928},{"s":"jShift","t":0.7998,"v":0.000313},{"s":"jShift","t":0.8099,"v":0.00061},{"s":"jShift","t":0.8268,"v":0.00138},{"s":"jShift","t":0.8504,"v":0.00226},{"s":"jShift","t":0.874,"v":0.00269},{"s":"jShift","t":0.8943,"v":0.00164},{"s":"jShift","t":0.9179,"v":0.001},{"s":"jShift","t":0.9415,"v":0.000269},{"s":"jShift","t":0.955,"v":0.00128},{"s":"jShift","t":0.9685,"v":0.00269},{"s":"jShift","t":0.9786,"v":0.00128},{"s":"jShift","t":0.9888,"v":0.000177},{"s":"jShift","t":0.9955,"v":0.000725},{"s":"jShift","t":1.0022,"v":0.00177},{"s":"jShift","t":1.0191,"v":0.00256},{"s":"jShift","t":1.036,"v":0.00269},{"s":"jShift","t":1.0529,"v":0.00164},{"s":"jShift","t":1.0664,"v":0.00029},{"s":"jShift","t":1.0799,"v":0.00078},{"s":"jShift","t":1.0934,"v":0.0021},{"s":"jShift","t":1.1102,"v":0.00164},{"s":"jShift","t":1.1204,"v":0.000841},{"s":"jShift","t":1.1305,"v":0.000513},{"s":"jShift","t":1.144,"v":0.00164},{"s":"jShift","t":1.1609,"v":0.00156},{"s":"jShift","t":1.1777,"v":0.00128},{"s":"jShift","t":1.1879,"v":0.000442},{"s":"jShift","t":1.2047,"v":0.00128},{"s":"jShift","t":1.2216,"v":0.00128},{"s":"jShift","t":1.2385,"v":0.00108},{"s":"jShift","t":1.2486,"v":0.000313},{"s":"jShift","t":1.2655,"v":0.001},{"s":"jShift","t":1.2891,"v":0.00138},{"s":"jShift","t":1.3127,"v":0.000928},{"s":"jShift","t":1.3228,"v":0.000513},{"s":"jShift","t":1.333,"v":0.000841},{"s":"jShift","t":1.3498,"v":0.00119},{"s":"jShift","t":1.3667,"v":0.000884},{"s":"jShift","t":1.3802,"v":0.00061},{"s":"jShift","t":1.3903,"v":0.000372},{"s":"jShift","t":1.4005,"v":0.000725},{"s":"jShift","t":1.4241,"v":0.001},{"s":"jShift","t":1.441,"v":0.00069},{"s":"jShift","t":1.4511,"v":0.000164},{"s":"jShift","t":1.4679,"v":0.000442},{"s":"jShift","t":1.4815,"v":0.000725},{"s":"jShift","t":1.4949,"v":0.00128},{"s":"jShift","t":1.5017,"v":0.00226},{"s":"jShift","t":1.5152,"v":0.0032},{"s":"jShift","t":1.5253,"v":0.00442},{"s":"jShift","t":1.5354,"v":0.00269},{"s":"jShift","t":1.5422,"v":0.00138},{"s":"jShift","t":1.5523,"v":0.0061},{"s":"jShift","t":1.5692,"v":0.00673},{"s":"jShift","t":1.5928,"v":0.00525},{"s":"jShift","t":1.6164,"v":0.00762},{"s":"jShift","t":1.6265,"v":0.00673},{"s":"jShift","t":1.6502,"v":0.0061},{"s":"jShift","t":1.6704,"v":0.00539},{"s":"jShift","t":1.694,"v":0.00525},{"s":"jShift","t":1.7177,"v":0.00566},{"s":"jShift","t":1.7379,"v":0.0061},{"s":"jShift","t":1.7616,"v":0.0069},{"s":"jShift","t":1.8054,"v":0.00641},{"s":"jShift","t":1.8358,"v":0.00525},{"s":"jShift","t":1.8628,"v":0.00673},{"s":"jShift","t":1.8965,"v":0.0069},{"s":"jShift","t":1.937,"v":0.0058},{"s":"jShift","t":1.9876,"v":0.00641},{"s":"jShift","t":2.0315,"v":0.00625},{"s":"jShift","t":2.1328,"v":0.0061},{"s":"jShift","t":2.2778,"v":0.00641},{"s":"jShift","t":2.4263,"v":0.0061},{"s":"jShift","t":2.5377,"v":0.00625},{"s":"jShift","t":2.7402,"v":0.00625},{"s":"jShift","t":2.9427,"v":0.0061},{"s":"jShift","t":3,"v":0.0061}
]},
"layer": [
 {
  "encoding": {
   "x": {"field": "t", "type": "quantitative", "scale": {"domain": [0, 3], "nice": false, "zero": false},
     "axis": {"orient": "bottom", "values": [0,0.2,0.4,0.6,0.8,1,1.2,1.4,1.6,1.8,2,2.2,2.4,2.6,2.8,3], "format": "~g", "tickSize": -11, "labelPadding": 17, "title": "t", "titleFontStyle": "italic", "titlePadding": 12}},
   "y": {"field": "v", "type": "quantitative", "scale": {"type": "log", "domain": [0.0001, 100], "nice": false},
     "axis": {"orient": "left", "values": [0.0001,0.001,0.01,0.1,1,10,100], "tickSize": -11, "labelPadding": 21, "labelExpr": "datum.value >= 50 ? '10²' : datum.value >= 5 ? '10¹' : datum.value >= 0.5 ? '10⁰' : datum.value >= 0.05 ? '10⁻¹' : datum.value >= 0.005 ? '10⁻²' : datum.value >= 0.0005 ? '10⁻³' : '10⁻⁴'", "title": "‖y(t) − yᵣ(t)‖₂", "titleFontStyle": "italic", "titlePadding": 14}},
   "color": {"field": "s", "type": "nominal", "scale": {"domain": ["BT","TrlBT","AugBT","BTBT","sShift","jShift"], "range": ["#ff0000","#008080","#0000ff","#000000","#bf8040","#ff8000"]},
     "legend": {"title": null, "orient": "none", "legendX": 492, "legendY": 18, "padding": 6, "rowPadding": 3, "symbolType": "M-1.39,0H1.39", "symbolSize": 961, "symbolStrokeWidth": 2.2, "symbolOffset": 9, "labelOffset": 11, "strokeColor": "#222", "fillColor": "white", "labelExpr": "datum.value == 'BT' ? 'standard BT' : datum.value == 'BTBT' ? 'BT-BT' : datum.value == 'sShift' ? 'sShiftBT' : datum.value == 'jShift' ? 'jShiftBT with β = βₕₑᵤᵣ' : datum.value"}},
   "strokeDash": {"field": "s", "type": "nominal", "scale": {"domain": ["BT","TrlBT","AugBT","BTBT","sShift","jShift"], "range": [[1,0],[9,6],[2.5,4.5],[8,3,2,3],[8,16],[8,10,2,10]]},
     "legend": {"title": null, "orient": "none", "legendX": 492, "legendY": 18, "padding": 6, "rowPadding": 3, "symbolType": "M-1.39,0H1.39", "symbolSize": 961, "symbolStrokeWidth": 2.2, "symbolOffset": 9, "labelOffset": 11, "strokeColor": "#222", "fillColor": "white", "labelExpr": "datum.value == 'BT' ? 'standard BT' : datum.value == 'BTBT' ? 'BT-BT' : datum.value == 'sShift' ? 'sShiftBT' : datum.value == 'jShift' ? 'jShiftBT with β = βₕₑᵤᵣ' : datum.value"}}
  },
  "layer": [
   {"transform": [{"filter": "datum.s == 'BT'"}], "mark": {"type": "line", "interpolate": "monotone", "strokeWidth": 2.2, "clip": true}},
   {"transform": [{"filter": "datum.s == 'TrlBT'"}], "mark": {"type": "line", "strokeWidth": 2.2, "clip": true}},
   {"transform": [{"filter": "datum.s == 'AugBT'"}], "mark": {"type": "line", "interpolate": "monotone", "strokeWidth": 2.4, "clip": true}},
   {"transform": [{"filter": "datum.s == 'BTBT'"}], "mark": {"type": "line", "strokeWidth": 2.2, "clip": true}},
   {"transform": [{"filter": "datum.s == 'sShift'"}], "mark": {"type": "line", "strokeWidth": 2.2, "clip": true}},
   {"transform": [{"filter": "datum.s == 'jShift'"}], "mark": {"type": "line", "strokeWidth": 2.2, "clip": true}}
  ]
 },
 {
  "data": {"values": [{"t": 0, "v": 1}]},
  "mark": {"type": "point", "opacity": 0},
  "encoding": {
   "x": {"field": "t", "type": "quantitative", "scale": {"domain": [0, 3], "nice": false, "zero": false},
     "axis": {"orient": "top", "values": [0,0.2,0.4,0.6,0.8,1,1.2,1.4,1.6,1.8,2,2.2,2.4,2.6,2.8,3], "labels": false, "tickSize": -11, "title": null}},
   "y": {"field": "v", "type": "quantitative", "scale": {"type": "log", "domain": [0.0001, 100], "nice": false},
     "axis": {"orient": "right", "values": [0.0001,0.001,0.01,0.1,1,10,100], "labels": false, "tickSize": -11, "title": null}}
  }
 },
 {
  "data": {"values": [{"t": 0, "v": 1}]},
  "mark": {"type": "point", "opacity": 0},
  "encoding": {
   "x": {"field": "t", "type": "quantitative", "scale": {"domain": [0, 3], "nice": false, "zero": false}, "axis": null},
   "y": {"field": "v", "type": "quantitative", "scale": {"type": "log", "domain": [0.0001, 100], "nice": false},
     "axis": {"orient": "left", "values": [0.0002,0.0003,0.0004,0.0005,0.0006,0.0007,0.0008,0.0009,0.002,0.003,0.004,0.005,0.006,0.007,0.008,0.009,0.02,0.03,0.04,0.05,0.06,0.07,0.08,0.09,0.2,0.3,0.4,0.5,0.6,0.7,0.8,0.9,2,3,4,5,6,7,8,9,20,30,40,50,60,70,80,90], "labels": false, "domain": false, "tickSize": -7, "title": null}}
  }
 },
 {
  "data": {"values": [{"t": 0, "v": 1}]},
  "mark": {"type": "point", "opacity": 0},
  "encoding": {
   "x": {"field": "t", "type": "quantitative", "scale": {"domain": [0, 3], "nice": false, "zero": false}, "axis": null},
   "y": {"field": "v", "type": "quantitative", "scale": {"type": "log", "domain": [0.0001, 100], "nice": false},
     "axis": {"orient": "right", "values": [0.0002,0.0003,0.0004,0.0005,0.0006,0.0007,0.0008,0.0009,0.002,0.003,0.004,0.005,0.006,0.007,0.008,0.009,0.02,0.03,0.04,0.05,0.06,0.07,0.08,0.09,0.2,0.3,0.4,0.5,0.6,0.7,0.8,0.9,2,3,4,5,6,7,8,9,20,30,40,50,60,70,80,90], "labels": false, "domain": false, "tickSize": -7, "title": null}}
  }
 }
],
"resolve": {"axis": {"x": "independent", "y": "independent"}}
}
